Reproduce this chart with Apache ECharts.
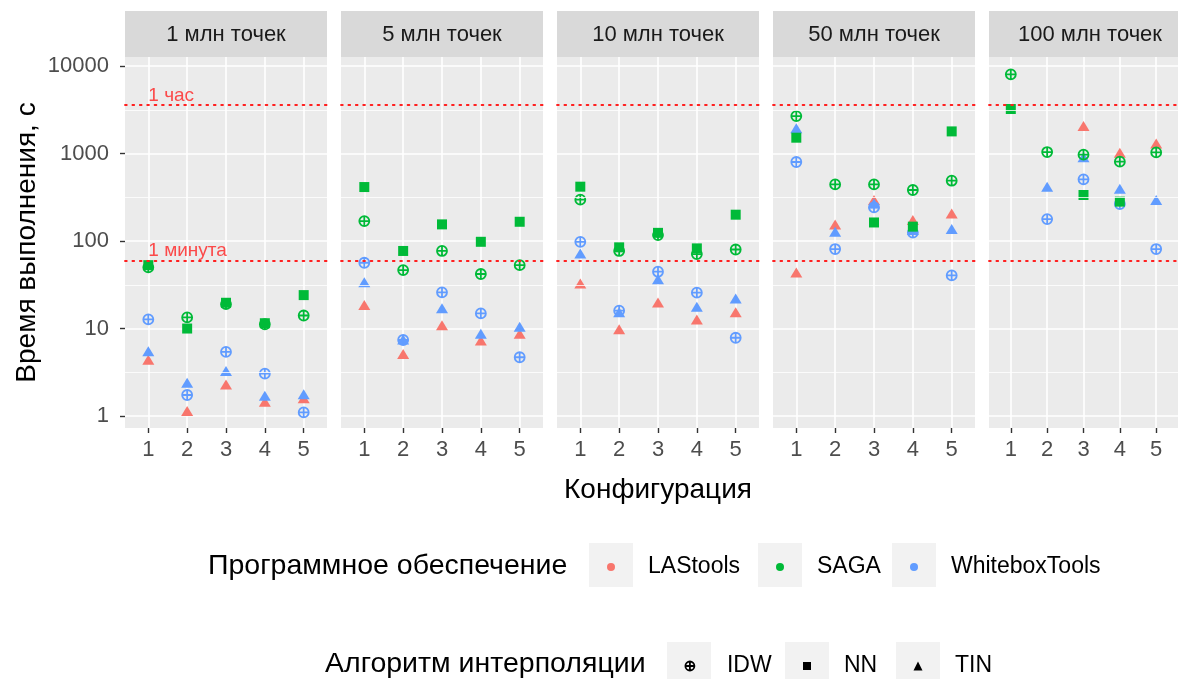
<!DOCTYPE html>
<html><head><meta charset="utf-8">
<script src="https://cdn.jsdelivr.net/npm/echarts@6.0.0/dist/echarts.min.js"></script>
<style>html,body{margin:0;padding:0;background:#fff}#chart{width:1178px;height:679px}</style>
</head><body><div id="chart"></div>
<script>
// ---------- data ----------
const panels = ['1 млн точек', '5 млн точек', '10 млн точек', '50 млн точек', '100 млн точек'];
const configs = [1, 2, 3, 4, 5];
const yTicks = [1, 10, 100, 1000, 10000];
const yMinorTicks = [3.162, 31.62, 316.2, 3162];
const refValues = [3600, 60];
const refLabels = ['1 час', '1 минута'];
const softwareNames = ['LAStools', 'SAGA', 'WhiteboxTools'];
const algorithmNames = ['IDW', 'NN', 'TIN'];

// values per panel (rows) and configuration (columns), seconds
const lastoolsTIN = [
  [4.4, 1.14, 2.3, 1.46, 1.6],
  [18.6, 5.1, 10.9, 7.3, 8.7],
  [32.8, 9.8, 19.9, 12.7, 15.3],
  [43.8, 155, 294, 174, 207],
  [null, null, 2060, 1020, 1300]
];
const sagaIDW = [
  [50, 13.4, 19, 11.2, 14.1],
  [169, 46.6, 77, 42, 53],
  [297, 77, 117, 71, 80],
  [2680, 444, 444, 383, 489],
  [8030, 1040, 970, 807, 1030]
];
const sagaNN = [
  [53, 10, 19.7, 11.5, 24.1],
  [414, 77, 155, 98, 166],
  [418, 84.7, 124, 82.4, 200],
  [1517, null, 163, 146, 1790],
  [3226, null, 336, 282, null]
];
const whiteboxIDW = [
  [12.7, 1.74, 5.4, 3.05, 1.1],
  [56.5, 7.4, 25.9, 14.9, 4.7],
  [98, 16, 44.6, 25.7, 7.85],
  [800, 81, 243, 125, 40.5],
  [null, 178, 507, 265, 81]
];
const whiteboxTIN = [
  [5.5, 2.4, 3.27, 1.7, 1.78],
  [33.7, 7.5, 17, 8.7, 10.5],
  [72, 15.3, 36.5, 17.7, 22],
  [1940, 128, 269, 134, 137],
  [null, 418, 904, 396, 294]
];

// ---------- styling / layout ----------
const FONT = '"Liberation Sans", Arial, sans-serif';
const COLORS = {LAStools: '#F8766D', SAGA: '#00BA38', WhiteboxTools: '#619CFF'};
const IDW_PATH = 'path://M0,-10 A10,10 0 1,1 0,10 A10,10 0 1,1 0,-10 Z M-10,0 L10,0 M0,-10 L0,10';
const SYMBOLS = {IDW: IDW_PATH, NN: 'rect', TIN: 'triangle'};
const SIZES = {IDW: 10, NN: 10, TIN: [12, 10]};
const L0 = 125, STEP = 216, PW = 202, PT = 57, PH = 371, SH = 46;
const Y_MIN = 0.73, Y_MAX = 12680;

const combos = [
  {soft: 'LAStools', alg: 'TIN', values: lastoolsTIN},
  {soft: 'WhiteboxTools', alg: 'IDW', values: whiteboxIDW},
  {soft: 'WhiteboxTools', alg: 'TIN', values: whiteboxTIN},
  {soft: 'SAGA', alg: 'IDW', values: sagaIDW},
  {soft: 'SAGA', alg: 'NN', values: sagaNN}
];

function markerStyle(alg, color) {
  if (alg === 'IDW') return {color: 'rgba(0,0,0,0)', borderColor: color, borderWidth: 1.8, opacity: 1};
  return {color: color, borderWidth: 0, opacity: 1};
}

const grids = [], xAxes = [], yAxes = [], series = [], graphics = [];
panels.forEach((title, p) => {
  const left = L0 + p * STEP;
  grids.push({left: left, top: PT, width: PW, height: PH, show: true,
    backgroundColor: '#ebebeb', borderWidth: 0});
  xAxes.push({type: 'value', gridIndex: p, min: 0.4, max: 5.6,
    axisLine: {show: false},
    axisTick: {show: true, customValues: configs, length: 5, lineStyle: {color: '#333', width: 1.4}},
    axisLabel: {show: true, customValues: configs, fontSize: 22, color: '#4d4d4d', margin: 11, fontFamily: FONT},
    splitLine: {show: true, lineStyle: {color: '#fff', width: 1.6}}
  });
  yAxes.push({type: 'log', logBase: 10, gridIndex: p, min: Y_MIN, max: Y_MAX,
    axisLine: {show: false},
    axisTick: {show: true, customValues: yTicks, length: 5,
      lineStyle: {color: p === 0 ? '#333' : 'rgba(0,0,0,0)', width: 1.4}},
    axisLabel: {show: p === 0, customValues: yTicks, fontSize: 22, color: '#4d4d4d', margin: 16,
      fontFamily: FONT, formatter: v => String(Math.round(v))},
    splitLine: {show: true, lineStyle: {color: '#fff', width: 1.6}}
  });
  // minor grid + reference lines
  series.push({type: 'line', xAxisIndex: p, yAxisIndex: p, data: [], z: 1, silent: true,
    markLine: {silent: true, symbol: 'none', animation: false, label: {show: false},
      data: yMinorTicks.map(v => ({yAxis: v, lineStyle: {color: '#fff', width: 0.8, type: 'solid'}}))
        .concat(refValues.map(v => ({yAxis: v, lineStyle: {color: '#ff2020', width: 1.8, type: [1.8, 5.6], cap: 'round'}})))
    }
  });
  combos.forEach(c => {
    const color = COLORS[c.soft];
    series.push({type: 'scatter', name: c.soft, xAxisIndex: p, yAxisIndex: p, z: 3,
      symbol: SYMBOLS[c.alg], symbolSize: SIZES[c.alg],
      itemStyle: markerStyle(c.alg, color),
      emphasis: {disabled: true}, animation: false,
      data: configs.map((cfg, i) => [cfg, c.values[p][i]]).filter(d => d[1] != null)
    });
  });
  // strip
  graphics.push({type: 'rect', shape: {x: left, y: PT - SH, width: PW, height: SH},
    style: {fill: '#d9d9d9'}, silent: true});
  graphics.push({type: 'text', x: left + PW / 2, y: PT - SH / 2 + 1, silent: true,
    style: {text: title, font: '22px ' + FONT, fill: '#1a1a1a', textAlign: 'center', textVerticalAlign: 'middle'}});
});

// reference line labels in first panel
series.push({type: 'scatter', xAxisIndex: 0, yAxisIndex: 0, z: 2, silent: true, symbolSize: 0,
  data: refValues.map((v, i) => [configs[0], v, refLabels[i]]),
  label: {show: true, position: [0, -19], formatter: d => d.data[2], color: '#ff2020', fontSize: 19, fontFamily: FONT}
});

// dummy series for the algorithm legend
algorithmNames.forEach(a => {
  series.push({type: 'scatter', name: a, xAxisIndex: 0, yAxisIndex: 0, data: [],
    symbol: SYMBOLS[a], itemStyle: markerStyle(a, '#000')});
});

// axis titles
graphics.push({type: 'text', x: (L0 + L0 + 4 * STEP + PW) / 2, y: 490, silent: true,
  style: {text: 'Конфигурация', font: '28px ' + FONT, fill: '#000', textAlign: 'center', textVerticalAlign: 'middle'}});
graphics.push({type: 'text', x: 27, y: PT + PH / 2, rotation: Math.PI / 2, silent: true,
  style: {text: 'Время выполнения, с', font: '28px ' + FONT, fill: '#000', textAlign: 'center', textVerticalAlign: 'middle'}});
graphics.push({type: 'text', x: 208, y: 566, silent: true,
  style: {text: 'Программное обеспечение', font: '28.5px ' + FONT, fill: '#000', textAlign: 'left', textVerticalAlign: 'middle'}});
graphics.push({type: 'text', x: 325, y: 664, silent: true,
  style: {text: 'Алгоритм интерполяции', font: '28.5px ' + FONT, fill: '#000', textAlign: 'left', textVerticalAlign: 'middle'}});

// legends with grey keys
const legendRows = [
  {cy: 565, items: [{name: 'LAStools', x: 589, icon: 'circle', s: 8, st: {color: COLORS.LAStools, borderWidth: 0}},
                    {name: 'SAGA', x: 758, icon: 'circle', s: 8, st: {color: COLORS.SAGA, borderWidth: 0}},
                    {name: 'WhiteboxTools', x: 892, icon: 'circle', s: 8, st: {color: COLORS.WhiteboxTools, borderWidth: 0}}]},
  {cy: 664, items: [{name: 'IDW', x: 667, icon: IDW_PATH, s: 9, st: markerStyle('IDW', '#000')},
                    {name: 'NN', x: 785, icon: 'rect', s: 8, st: markerStyle('NN', '#000')},
                    {name: 'TIN', x: 896, icon: 'triangle', s: 9, st: markerStyle('TIN', '#000')}]}
];
const legends = [];
legendRows.forEach(row => {
  row.items.forEach(it => {
    graphics.push({type: 'rect', shape: {x: it.x, y: row.cy - 22, width: 44, height: 44},
      style: {fill: '#f2f2f2'}, silent: true, z: -1});
    legends.push({left: it.x + 22 - it.s / 2, top: row.cy - 12, padding: 0, itemWidth: it.s, itemHeight: it.s, itemGap: 0,
      selectedMode: false, orient: 'horizontal',
      data: [{name: it.name, icon: it.icon, itemStyle: it.st}],
      textStyle: {fontSize: 23, color: '#000', fontFamily: FONT, lineHeight: 26, padding: [2, 0, 0, 32 - it.s / 2]}
    });
  });
});

const chart = echarts.init(document.getElementById('chart'), null, {renderer: 'canvas'});
chart.setOption({
  animation: false,
  backgroundColor: '#fff',
  grid: grids, xAxis: xAxes, yAxis: yAxes, series: series,
  legend: legends,
  graphic: {elements: graphics}
});
</script></body></html>
